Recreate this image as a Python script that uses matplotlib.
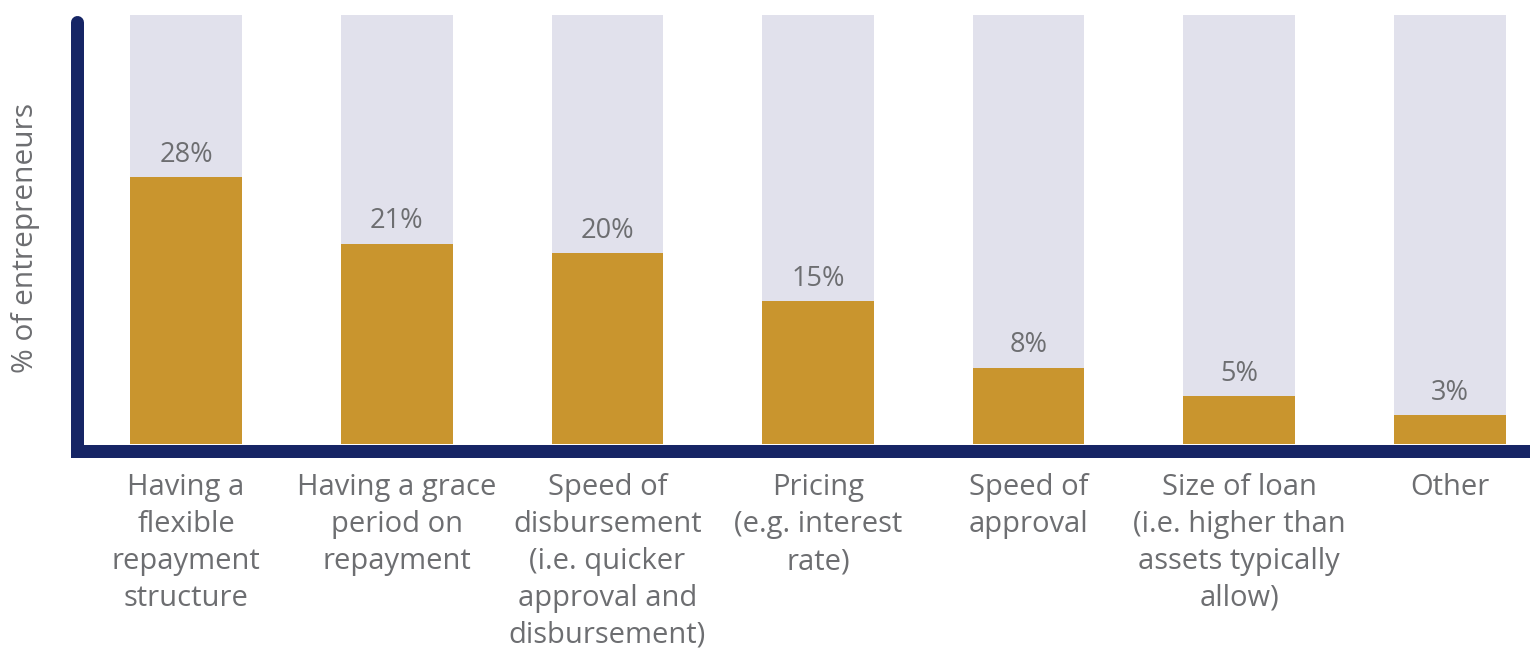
import matplotlib.pyplot as plt
from matplotlib.lines import Line2D

# Share of entrepreneurs naming each loan feature as most important
categories = [
    "Having a\nflexible\nrepayment\nstructure",
    "Having a grace\nperiod on\nrepayment",
    "Speed of\ndisbursement\n(i.e. quicker\napproval and\ndisbursement)",
    "Pricing\n(e.g. interest\nrate)",
    "Speed of\napproval",
    "Size of loan\n(i.e. higher than\nassets typically\nallow)",
    "Other",
]
values = [28, 21, 20, 15, 8, 5, 3]
y_max = 45

gold = "#C9952E"
track = "#E1E1EC"
navy = "#162565"
grey = "#6D6E71"

plt.rcParams["font.family"] = ["Open Sans", "DejaVu Sans"]

W, H, DPI = 1530, 650, 100
fig = plt.figure(figsize=(W / DPI, H / DPI), dpi=DPI)

# axes: left edge on the vertical axis line, bottom on the bar baseline
left_px, bottom_px, top_px = 76.5, 444, 15
ax = fig.add_axes([left_px / W, (H - bottom_px) / H,
                   1 - left_px / W, (bottom_px - top_px) / H])

x = list(range(len(categories)))
ax.bar(x, [y_max] * len(x), width=0.53, color=track, zorder=1)
ax.bar(x, values, width=0.53, color=gold, zorder=2)

for xi, v in zip(x, values):
    ax.annotate(f"{v}%", (xi, v), xytext=(0, 6), textcoords="offset points",
                ha="center", va="bottom", fontsize=19.5, color=grey)

ax.set_xlim(-0.52, 6.38)
ax.set_ylim(0, y_max)
ax.set_xticks(x)
ax.set_xticklabels(categories, fontsize=21, color=grey, linespacing=1.36)
ax.tick_params(axis="x", length=0, pad=21)
ax.set_yticks([])
for s in ax.spines.values():
    s.set_visible(False)

ax.set_ylabel("% of entrepreneurs", fontsize=21.5, color=grey)
ax.yaxis.set_label_coords(-0.025, 0.48)

# custom axis lines: rounded-top vertical, flat horizontal under the bars
lw = 13 * 72 / DPI
fx = left_px / W
fig.add_artist(Line2D([fx, fx], [(H - 451) / H, (H - 21.5) / H],
                      color=navy, lw=lw, solid_capstyle="round"))
fig.add_artist(Line2D([fx, 1.01], [(H - 451) / H, (H - 451) / H],
                      color=navy, lw=lw, solid_capstyle="projecting"))

fig.savefig("out.png", dpi=DPI)
